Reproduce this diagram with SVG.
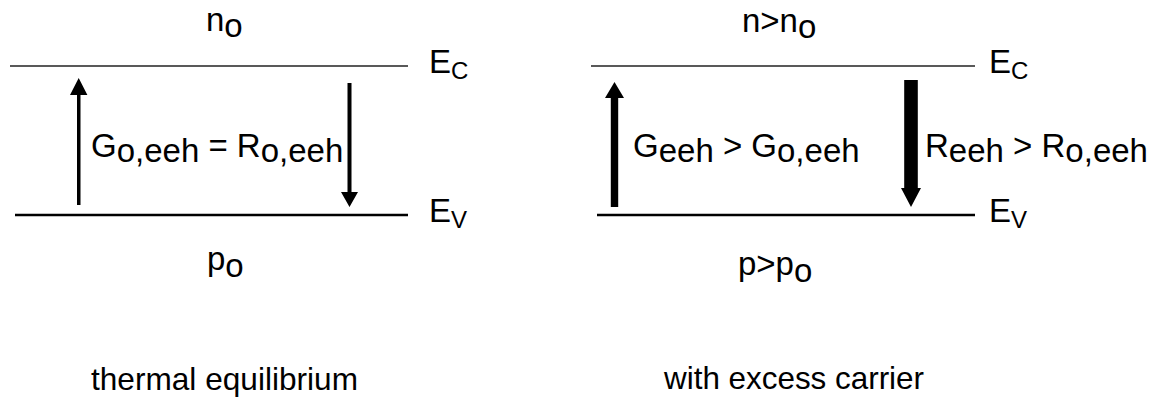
<svg xmlns="http://www.w3.org/2000/svg" width="1156" height="400" viewBox="0 0 1156 400">
<style>
text{font-family:"Liberation Sans",Arial,sans-serif;font-size:33px;fill:#000}
.sub{font-size:24px}
.cap{font-size:31.5px}
.ec{stroke:#222;stroke-width:1.6}
.ev{stroke:#000;stroke-width:2.5}
.arr{fill:#000}
</style>
<rect width="1156" height="400" fill="#fff"/>
<g id="left-panel">
  <g id="left-bands">
    <line class="ec" x1="10" y1="66" x2="408" y2="66"/>
    <line class="ev" x1="15" y1="215" x2="408" y2="215"/>
    <text x="429" y="73">E<tspan class="sub" dy="6">C</tspan></text>
    <text x="429" y="222">E<tspan class="sub" dy="6">V</tspan></text>
  </g>
  <text id="left-n" x="206" y="31">n<tspan dy="6">o</tspan></text>
  <text id="left-p" x="207" y="270">p<tspan dy="7">o</tspan></text>
  <text id="left-rate" x="91" y="157">G<tspan dy="5">o,eeh</tspan><tspan dy="-5"> = R</tspan><tspan dy="5">o,eeh</tspan></text>
  <text id="left-caption" class="cap" x="91" y="390" textLength="267" lengthAdjust="spacingAndGlyphs">thermal equilibrium</text>
</g>
<g id="right-panel">
  <g id="right-bands">
    <line class="ec" x1="591" y1="66" x2="975" y2="66"/>
    <line class="ev" x1="597" y1="215" x2="975" y2="215"/>
    <text x="989" y="73">E<tspan class="sub" dy="6">C</tspan></text>
    <text x="989" y="222">E<tspan class="sub" dy="6">V</tspan></text>
  </g>
  <text id="right-n" x="742" y="32">n&gt;n<tspan dy="6">o</tspan></text>
  <text id="right-p" x="738" y="275">p&gt;p<tspan dy="7">o</tspan></text>
  <text id="right-g" x="633" y="157">G<tspan dy="5">eeh</tspan><tspan dy="-5"> &gt; G</tspan><tspan dy="5">o,eeh</tspan></text>
  <text id="right-r" x="925" y="157">R<tspan dy="5">eeh</tspan><tspan dy="-5"> &gt; R</tspan><tspan dy="5">o,eeh</tspan></text>
  <text id="right-caption" class="cap" x="664" y="389" textLength="260" lengthAdjust="spacingAndGlyphs">with excess carrier</text>
</g>
<g id="connectors">
  <polygon class="arr" points="77,205 77,95 70,95 78.7,78 87.4,95 80.5,95 80.5,205"/>
  <polygon class="arr" points="347.5,83 351.5,83 351.5,192 358,192 349.5,207 341,192 347.5,192"/>
  <polygon class="arr" points="610.8,207 610.8,98 605,98 614.5,82 624,98 618.2,98 618.2,207"/>
  <polygon class="arr" points="904.2,80 917.8,80 917.8,188 921,188 911,207 901,188 904.2,188"/>
</g>
</svg>
